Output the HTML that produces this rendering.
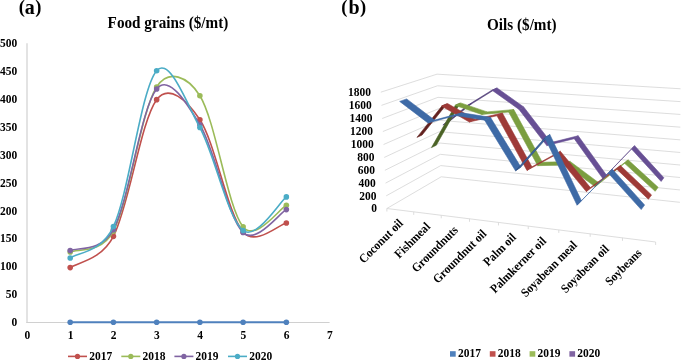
<!DOCTYPE html>
<html><head><meta charset="utf-8"><style>
html,body{margin:0;padding:0;background:#fff;}
svg{display:block;will-change:transform;}
text{font-family:"Liberation Serif",serif;font-weight:bold;fill:#000;}
</style></head><body>
<svg width="685" height="361" viewBox="0 0 685 361">
<rect width="685" height="361" fill="#fff"/>
<line x1="27.0" y1="43.30" x2="27.0" y2="323" stroke="#D0D0D0" stroke-width="1.2"/>
<line x1="26.4" y1="322.5" x2="329.58" y2="322.5" stroke="#D0D0D0" stroke-width="1"/>
<text transform="translate(17.30 326.10) scale(1.0 1.08)" font-size="11.5" text-anchor="end">0</text>
<text transform="translate(17.30 298.20) scale(1.0 1.08)" font-size="11.5" text-anchor="end">50</text>
<text transform="translate(17.30 270.30) scale(1.0 1.08)" font-size="11.5" text-anchor="end">100</text>
<text transform="translate(17.30 242.40) scale(1.0 1.08)" font-size="11.5" text-anchor="end">150</text>
<text transform="translate(17.30 214.50) scale(1.0 1.08)" font-size="11.5" text-anchor="end">200</text>
<text transform="translate(17.30 186.60) scale(1.0 1.08)" font-size="11.5" text-anchor="end">250</text>
<text transform="translate(17.30 158.70) scale(1.0 1.08)" font-size="11.5" text-anchor="end">300</text>
<text transform="translate(17.30 130.80) scale(1.0 1.08)" font-size="11.5" text-anchor="end">350</text>
<text transform="translate(17.30 102.90) scale(1.0 1.08)" font-size="11.5" text-anchor="end">400</text>
<text transform="translate(17.30 75.00) scale(1.0 1.08)" font-size="11.5" text-anchor="end">450</text>
<text transform="translate(17.30 47.10) scale(1.0 1.08)" font-size="11.5" text-anchor="end">500</text>
<text transform="translate(27.27 339.30) scale(1.0 1.08)" font-size="11.5" text-anchor="middle">0</text>
<text transform="translate(70.50 339.30) scale(1.0 1.08)" font-size="11.5" text-anchor="middle">1</text>
<text transform="translate(113.73 339.30) scale(1.0 1.08)" font-size="11.5" text-anchor="middle">2</text>
<text transform="translate(156.96 339.30) scale(1.0 1.08)" font-size="11.5" text-anchor="middle">3</text>
<text transform="translate(200.19 339.30) scale(1.0 1.08)" font-size="11.5" text-anchor="middle">4</text>
<text transform="translate(243.42 339.30) scale(1.0 1.08)" font-size="11.5" text-anchor="middle">5</text>
<text transform="translate(286.65 339.30) scale(1.0 1.08)" font-size="11.5" text-anchor="middle">6</text>
<text transform="translate(329.88 339.30) scale(1.0 1.08)" font-size="11.5" text-anchor="middle">7</text>
<line x1="70.20" y1="322.30" x2="286.35" y2="322.30" stroke="#4F81BD" stroke-width="2"/>
<circle cx="70.20" cy="322.30" r="2.8" fill="#4F81BD"/>
<circle cx="113.43" cy="322.30" r="2.8" fill="#4F81BD"/>
<circle cx="156.66" cy="322.30" r="2.8" fill="#4F81BD"/>
<circle cx="199.89" cy="322.30" r="2.8" fill="#4F81BD"/>
<circle cx="243.12" cy="322.30" r="2.8" fill="#4F81BD"/>
<circle cx="286.35" cy="322.30" r="2.8" fill="#4F81BD"/>
<path d="M70.20,267.62 C77.40,262.41 101.06,260.39 113.43,236.37 C129.26,205.61 140.71,121.17 156.66,99.66 C168.77,83.32 187.38,100.61 199.89,119.75 C215.65,143.86 227.27,212.98 243.12,231.90 C255.46,246.63 279.15,224.46 286.35,222.98" fill="none" stroke="#C0504D" stroke-width="1.6"/>
<circle cx="70.20" cy="267.62" r="2.8" fill="#C0504D"/>
<circle cx="113.43" cy="236.37" r="2.8" fill="#C0504D"/>
<circle cx="156.66" cy="99.66" r="2.8" fill="#C0504D"/>
<circle cx="199.89" cy="119.75" r="2.8" fill="#C0504D"/>
<circle cx="243.12" cy="231.90" r="2.8" fill="#C0504D"/>
<circle cx="286.35" cy="222.98" r="2.8" fill="#C0504D"/>
<path d="M70.20,251.99 C77.40,248.51 101.41,254.06 113.43,231.12 C129.42,200.60 140.59,112.10 156.66,86.94 C168.48,68.42 187.87,76.29 199.89,95.75 C215.88,121.63 227.22,206.73 243.12,226.88 C255.35,242.38 279.15,208.93 286.35,205.34" fill="none" stroke="#9BBB59" stroke-width="1.6"/>
<circle cx="70.20" cy="251.99" r="2.8" fill="#9BBB59"/>
<circle cx="113.43" cy="231.12" r="2.8" fill="#9BBB59"/>
<circle cx="156.66" cy="86.94" r="2.8" fill="#9BBB59"/>
<circle cx="199.89" cy="95.75" r="2.8" fill="#9BBB59"/>
<circle cx="243.12" cy="226.88" r="2.8" fill="#9BBB59"/>
<circle cx="286.35" cy="205.34" r="2.8" fill="#9BBB59"/>
<path d="M70.20,250.60 C77.40,247.11 101.36,252.24 113.43,229.67 C129.40,199.82 140.85,108.12 156.66,88.94 C169.08,73.87 186.94,103.26 199.89,124.77 C215.42,150.56 227.43,217.18 243.12,232.57 C255.77,244.98 279.15,213.42 286.35,209.58" fill="none" stroke="#8064A2" stroke-width="1.6"/>
<circle cx="70.20" cy="250.60" r="2.8" fill="#8064A2"/>
<circle cx="113.43" cy="229.67" r="2.8" fill="#8064A2"/>
<circle cx="156.66" cy="88.94" r="2.8" fill="#8064A2"/>
<circle cx="199.89" cy="124.77" r="2.8" fill="#8064A2"/>
<circle cx="243.12" cy="232.57" r="2.8" fill="#8064A2"/>
<circle cx="286.35" cy="209.58" r="2.8" fill="#8064A2"/>
<path d="M70.20,257.96 C77.40,252.73 101.33,252.74 113.43,226.55 C129.39,192.00 141.02,88.66 156.66,70.75 C169.41,56.16 186.35,102.54 199.89,127.56 C215.03,155.53 227.61,218.01 243.12,230.45 C256.10,240.86 279.15,202.51 286.35,196.92" fill="none" stroke="#4BACC6" stroke-width="1.6"/>
<circle cx="70.20" cy="257.96" r="2.8" fill="#4BACC6"/>
<circle cx="113.43" cy="226.55" r="2.8" fill="#4BACC6"/>
<circle cx="156.66" cy="70.75" r="2.8" fill="#4BACC6"/>
<circle cx="199.89" cy="127.56" r="2.8" fill="#4BACC6"/>
<circle cx="243.12" cy="230.45" r="2.8" fill="#4BACC6"/>
<circle cx="286.35" cy="196.92" r="2.8" fill="#4BACC6"/>
<line x1="68.00" y1="356.4" x2="87.00" y2="356.4" stroke="#C0504D" stroke-width="1.6"/>
<circle cx="77.50" cy="356.4" r="2.6" fill="#C0504D"/>
<text transform="translate(89.20 360.30) scale(1.0 1.08)" font-size="11.5">2017</text>
<line x1="121.30" y1="356.4" x2="140.30" y2="356.4" stroke="#9BBB59" stroke-width="1.6"/>
<circle cx="130.80" cy="356.4" r="2.6" fill="#9BBB59"/>
<text transform="translate(142.50 360.30) scale(1.0 1.08)" font-size="11.5">2018</text>
<line x1="174.40" y1="356.4" x2="193.40" y2="356.4" stroke="#8064A2" stroke-width="1.6"/>
<circle cx="183.90" cy="356.4" r="2.6" fill="#8064A2"/>
<text transform="translate(195.60 360.30) scale(1.0 1.08)" font-size="11.5">2019</text>
<line x1="228.00" y1="356.4" x2="247.00" y2="356.4" stroke="#4BACC6" stroke-width="1.6"/>
<circle cx="237.50" cy="356.4" r="2.6" fill="#4BACC6"/>
<text transform="translate(249.20 360.30) scale(1.0 1.08)" font-size="11.5">2020</text>
<text transform="translate(18.70 13.80) scale(1.0 1.0)" font-size="20"><tspan font-size="18.5" dy="-0.6">(</tspan><tspan dy="0.6">a</tspan><tspan font-size="18.5" dx="0.5" dy="-0.6">)</tspan></text>
<text transform="translate(107.60 28.10) scale(1.0 1.04)" font-size="15.2">Food grains ($/mt)</text>
<text transform="translate(341.20 13.80) scale(1.0 1.0)" font-size="20"><tspan font-size="18.5" dy="-0.6">(</tspan><tspan dx="1.2" dy="0.6">b</tspan><tspan font-size="18.5" dx="0.2" dy="-0.6">)</tspan></text>
<text transform="translate(487.00 29.80) scale(1.0 1.04)" font-size="15.2">Oils ($/mt)</text>
<polyline points="386.87,208.51 441.22,176.79 679.91,202.32" fill="none" stroke="#D9D9D9" stroke-width="0.9"/>
<text transform="translate(377.07 212.31) scale(1.0 1.08)" font-size="11.5" text-anchor="end">0</text>
<polyline points="386.21,195.84 440.76,165.59 679.98,189.95" fill="none" stroke="#D9D9D9" stroke-width="0.9"/>
<text transform="translate(376.41 199.64) scale(1.0 1.08)" font-size="11.5" text-anchor="end">200</text>
<polyline points="385.55,183.11 440.29,154.34 680.05,177.51" fill="none" stroke="#D9D9D9" stroke-width="0.9"/>
<text transform="translate(375.75 186.91) scale(1.0 1.08)" font-size="11.5" text-anchor="end">400</text>
<polyline points="384.89,170.31 439.83,143.04 680.12,165.02" fill="none" stroke="#D9D9D9" stroke-width="0.9"/>
<text transform="translate(375.09 174.11) scale(1.0 1.08)" font-size="11.5" text-anchor="end">600</text>
<polyline points="384.22,157.45 439.36,131.68 680.19,152.47" fill="none" stroke="#D9D9D9" stroke-width="0.9"/>
<text transform="translate(374.42 161.25) scale(1.0 1.08)" font-size="11.5" text-anchor="end">800</text>
<polyline points="383.55,144.53 438.89,120.28 680.26,139.85" fill="none" stroke="#D9D9D9" stroke-width="0.9"/>
<text transform="translate(373.75 148.33) scale(1.0 1.08)" font-size="11.5" text-anchor="end">1000</text>
<polyline points="382.87,131.54 438.42,108.83 680.33,127.18" fill="none" stroke="#D9D9D9" stroke-width="0.9"/>
<text transform="translate(373.07 135.34) scale(1.0 1.08)" font-size="11.5" text-anchor="end">1200</text>
<polyline points="382.19,118.49 437.95,97.33 680.40,114.44" fill="none" stroke="#D9D9D9" stroke-width="0.9"/>
<text transform="translate(372.39 122.29) scale(1.0 1.08)" font-size="11.5" text-anchor="end">1400</text>
<polyline points="381.51,105.37 437.48,85.77 680.47,101.63" fill="none" stroke="#D9D9D9" stroke-width="0.9"/>
<text transform="translate(371.71 109.17) scale(1.0 1.08)" font-size="11.5" text-anchor="end">1600</text>
<polyline points="380.82,92.18 437.00,74.17 680.54,88.77" fill="none" stroke="#D9D9D9" stroke-width="0.9"/>
<text transform="translate(371.02 95.98) scale(1.0 1.08)" font-size="11.5" text-anchor="end">1800</text>
<line x1="386.87" y1="208.51" x2="655.64" y2="241.99" stroke="#D9D9D9" stroke-width="0.9"/>
<line x1="386.87" y1="208.51" x2="386.87" y2="211.51" stroke="#D9D9D9" stroke-width="0.9"/>
<line x1="413.72" y1="211.85" x2="413.72" y2="214.85" stroke="#D9D9D9" stroke-width="0.9"/>
<line x1="441.25" y1="215.28" x2="441.25" y2="218.28" stroke="#D9D9D9" stroke-width="0.9"/>
<line x1="469.49" y1="218.80" x2="469.49" y2="221.80" stroke="#D9D9D9" stroke-width="0.9"/>
<line x1="498.48" y1="222.41" x2="498.48" y2="225.41" stroke="#D9D9D9" stroke-width="0.9"/>
<line x1="528.24" y1="226.12" x2="528.24" y2="229.12" stroke="#D9D9D9" stroke-width="0.9"/>
<line x1="558.80" y1="229.93" x2="558.80" y2="232.93" stroke="#D9D9D9" stroke-width="0.9"/>
<line x1="590.20" y1="233.84" x2="590.20" y2="236.84" stroke="#D9D9D9" stroke-width="0.9"/>
<line x1="622.47" y1="237.86" x2="622.47" y2="240.86" stroke="#D9D9D9" stroke-width="0.9"/>
<line x1="655.64" y1="241.99" x2="655.64" y2="244.99" stroke="#D9D9D9" stroke-width="0.9"/>
<text transform="translate(403.71 223.97) rotate(-45) scale(1.0 1.08)" font-size="11.5" text-anchor="end">Coconut oil</text>
<text transform="translate(430.90 227.35) rotate(-45) scale(1.0 1.08)" font-size="11.5" text-anchor="end">Fishmeal</text>
<text transform="translate(458.78 230.83) rotate(-45) scale(1.0 1.08)" font-size="11.5" text-anchor="end">Groundnuts</text>
<text transform="translate(487.39 234.39) rotate(-45) scale(1.0 1.08)" font-size="11.5" text-anchor="end">Groundnut oil</text>
<text transform="translate(516.76 238.05) rotate(-45) scale(1.0 1.08)" font-size="11.5" text-anchor="end">Palm oil</text>
<text transform="translate(546.92 241.81) rotate(-45) scale(1.0 1.08)" font-size="11.5" text-anchor="end">Palmkerner oil</text>
<text transform="translate(577.89 245.67) rotate(-45) scale(1.0 1.08)" font-size="11.5" text-anchor="end">Soyabean meal</text>
<text transform="translate(609.72 249.63) rotate(-45) scale(1.0 1.08)" font-size="11.5" text-anchor="end">Soyabean oil</text>
<text transform="translate(642.44 253.71) rotate(-45) scale(1.0 1.08)" font-size="11.5" text-anchor="end">Soybeans</text>
<polygon points="442.89,124.97 467.25,105.63 471.56,103.77 447.42,122.91" fill="#4A3870" stroke="#4A3870" stroke-width="0.6" stroke-linejoin="round"/>
<polygon points="466.70,105.87 492.00,90.16 497.10,88.02 472.10,103.54" fill="#5E4888" stroke="#4A3870" stroke-width="0.6" stroke-linejoin="round"/>
<polygon points="492.00,90.16 518.98,109.40 523.72,106.97 497.10,88.02" fill="#674F94" stroke="#674F94" stroke-width="0.6" stroke-linejoin="round"/>
<polygon points="518.98,109.40 546.76,145.54 551.11,142.55 523.72,106.97" fill="#674F94" stroke="#674F94" stroke-width="0.6" stroke-linejoin="round"/>
<polygon points="546.76,145.54 574.19,138.68 578.18,135.75 551.11,142.55" fill="#674F94" stroke="#674F94" stroke-width="0.6" stroke-linejoin="round"/>
<polygon points="574.19,138.68 602.84,178.59 606.41,175.04 578.18,135.75" fill="#674F94" stroke="#674F94" stroke-width="0.6" stroke-linejoin="round"/>
<polygon points="602.84,178.59 631.49,148.91 634.68,145.75 606.41,175.04" fill="#5E4888" stroke="#5E4888" stroke-width="0.6" stroke-linejoin="round"/>
<polygon points="631.49,148.91 661.12,181.46 663.87,177.77 634.68,145.75" fill="#674F94" stroke="#674F94" stroke-width="0.6" stroke-linejoin="round"/>
<polygon points="431.50,147.62 455.49,105.07 460.08,103.16 436.29,145.23" fill="#4B6326" stroke="#4B6326" stroke-width="0.6" stroke-linejoin="round"/>
<polygon points="454.90,105.32 481.68,114.45 487.08,111.89 460.65,102.92" fill="#7B9E40" stroke="#7B9E40" stroke-width="0.6" stroke-linejoin="round"/>
<polygon points="481.68,114.45 508.72,112.12 513.77,109.56 487.08,111.89" fill="#7B9E40" stroke="#7B9E40" stroke-width="0.6" stroke-linejoin="round"/>
<polygon points="508.72,112.12 537.71,165.68 542.33,162.29 513.77,109.56" fill="#7B9E40" stroke="#7B9E40" stroke-width="0.6" stroke-linejoin="round"/>
<polygon points="537.71,165.68 565.93,164.88 570.16,161.46 542.33,162.29" fill="#7B9E40" stroke="#7B9E40" stroke-width="0.6" stroke-linejoin="round"/>
<polygon points="565.93,164.88 595.15,186.75 598.96,182.95 570.16,161.46" fill="#7B9E40" stroke="#7B9E40" stroke-width="0.6" stroke-linejoin="round"/>
<polygon points="595.15,186.75 624.65,163.35 628.06,159.87 598.96,182.95" fill="#7B9E40" stroke="#7B9E40" stroke-width="0.6" stroke-linejoin="round"/>
<polygon points="624.65,163.35 655.19,191.30 658.13,187.33 628.06,159.87" fill="#7B9E40" stroke="#7B9E40" stroke-width="0.6" stroke-linejoin="round"/>
<polygon points="416.96,137.38 442.07,105.81 446.99,103.81 422.10,135.04" fill="#62211F" stroke="#62211F" stroke-width="0.6" stroke-linejoin="round"/>
<polygon points="441.44,106.06 469.26,121.98 475.04,119.21 447.60,103.57" fill="#9E3A37" stroke="#9E3A37" stroke-width="0.6" stroke-linejoin="round"/>
<polygon points="469.26,121.98 496.97,115.75 502.39,113.04 475.04,119.21" fill="#9E3A37" stroke="#9E3A37" stroke-width="0.6" stroke-linejoin="round"/>
<polygon points="496.97,115.75 526.96,170.41 531.91,166.82 502.39,113.04" fill="#9E3A37" stroke="#9E3A37" stroke-width="0.6" stroke-linejoin="round"/>
<polygon points="526.96,170.41 555.79,154.73 560.36,151.34 531.91,166.82" fill="#9E3A37" stroke="#9E3A37" stroke-width="0.6" stroke-linejoin="round"/>
<polygon points="555.79,154.73 586.28,191.58 590.37,187.56 560.36,151.34" fill="#9E3A37" stroke="#9E3A37" stroke-width="0.6" stroke-linejoin="round"/>
<polygon points="586.28,191.58 616.75,169.14 620.41,165.43 590.37,187.56" fill="#9E3A37" stroke="#9E3A37" stroke-width="0.6" stroke-linejoin="round"/>
<polygon points="616.75,169.14 648.39,199.22 651.55,194.97 620.41,165.43" fill="#9E3A37" stroke="#9E3A37" stroke-width="0.6" stroke-linejoin="round"/>
<polygon points="399.67,101.40 427.97,122.94 434.54,120.09 406.64,98.92" fill="#3E6AA6" stroke="#3E6AA6" stroke-width="0.6" stroke-linejoin="round"/>
<polygon points="427.97,122.94 455.68,115.57 461.90,112.80 434.54,120.09" fill="#3E6AA6" stroke="#3E6AA6" stroke-width="0.6" stroke-linejoin="round"/>
<polygon points="455.68,115.57 484.61,120.20 490.43,117.32 461.90,112.80" fill="#3E6AA6" stroke="#3E6AA6" stroke-width="0.6" stroke-linejoin="round"/>
<polygon points="484.61,120.20 515.51,170.82 520.84,167.09 490.43,117.32" fill="#3E6AA6" stroke="#3E6AA6" stroke-width="0.6" stroke-linejoin="round"/>
<polygon points="515.51,170.82 544.91,137.79 549.85,134.55 520.84,167.09" fill="#3A64A3" stroke="#2A4A78" stroke-width="0.6" stroke-linejoin="round"/>
<polygon points="544.91,137.79 577.04,205.15 581.43,200.76 549.85,134.55" fill="#3E6AA6" stroke="#3E6AA6" stroke-width="0.6" stroke-linejoin="round"/>
<polygon points="577.04,205.15 608.38,173.17 612.33,169.25 581.43,200.76" fill="#3A64A3" stroke="#3A64A3" stroke-width="0.6" stroke-linejoin="round"/>
<polygon points="608.38,173.17 641.20,209.59 644.60,205.00 612.33,169.25" fill="#3E6AA6" stroke="#3E6AA6" stroke-width="0.6" stroke-linejoin="round"/>
<rect x="450.00" y="351.2" width="5.7" height="5.5" fill="#4F81BD"/>
<text transform="translate(457.90 357.30) scale(1.0 1.08)" font-size="11.5">2017</text>
<rect x="489.80" y="351.2" width="5.7" height="5.5" fill="#C0504D"/>
<text transform="translate(497.70 357.30) scale(1.0 1.08)" font-size="11.5">2018</text>
<rect x="529.60" y="351.2" width="5.7" height="5.5" fill="#9BBB59"/>
<text transform="translate(537.50 357.30) scale(1.0 1.08)" font-size="11.5">2019</text>
<rect x="569.40" y="351.2" width="5.7" height="5.5" fill="#8064A2"/>
<text transform="translate(577.30 357.30) scale(1.0 1.08)" font-size="11.5">2020</text>
</svg>
</body></html>
